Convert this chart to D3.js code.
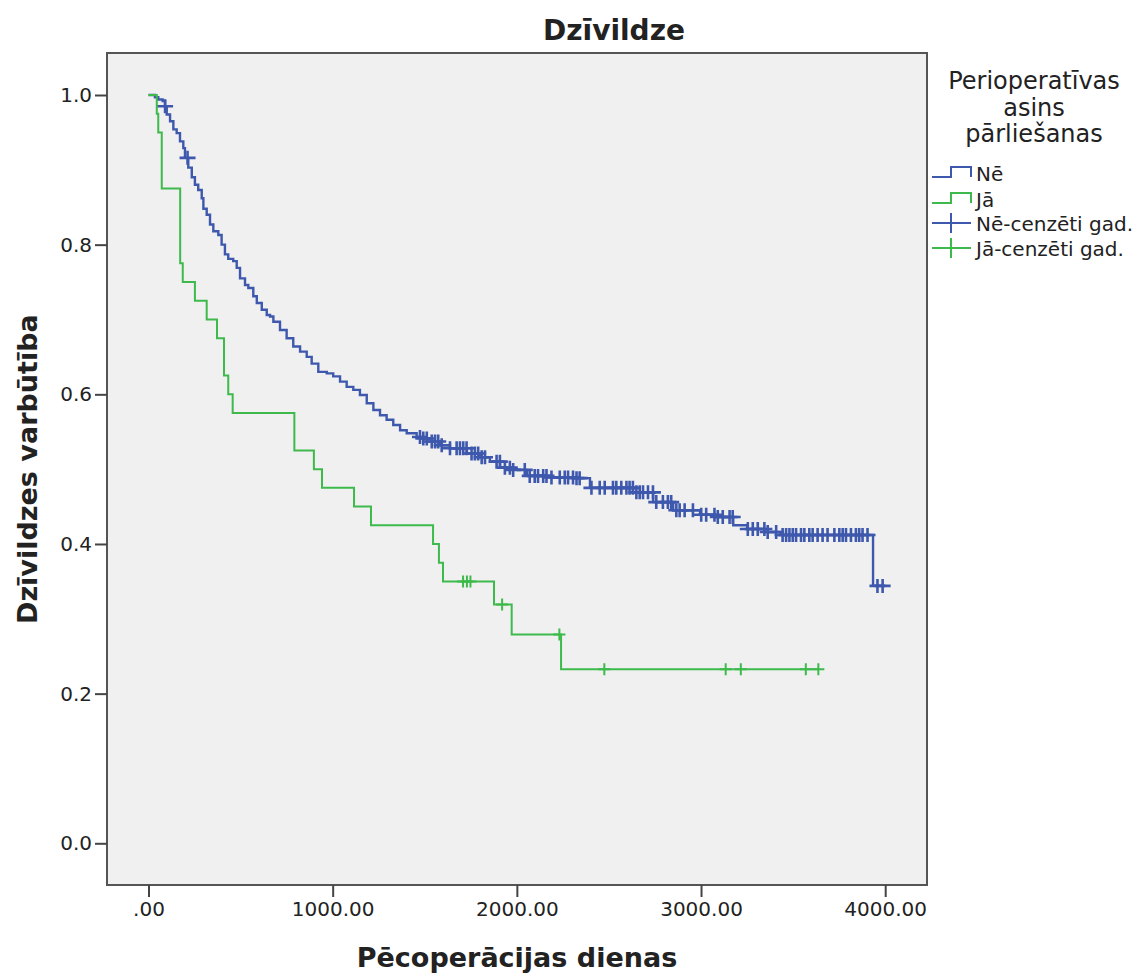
<!DOCTYPE html>
<html><head><meta charset="utf-8">
<script src="https://cdn.jsdelivr.net/npm/d3@7"></script>
<style>body{margin:0;background:#fff}</style>
</head><body><svg id="c" width="1148" height="976"></svg>
<script>
// ---------- data ----------
const chartTitle = "Dzīvildze";
const xTitle = "Pēcoperācijas dienas";
const yTitle = "Dzīvildzes varbūtība";
const xTicks = [0, 1000, 2000, 3000, 4000];
const xTickLabels = [".00", "1000.00", "2000.00", "3000.00", "4000.00"];
const yTicks = [0, 0.2, 0.4, 0.6, 0.8, 1.0];
const yTickLabels = ["0.0", "0.2", "0.4", "0.6", "0.8", "1.0"];
const legendTitle = ["Perioperatīvas", "asins", "pārliešanas"];
const legendLabels = ["Nē", "Jā", "Nē-cenzēti gad.", "Jā-cenzēti gad."];

// Kaplan-Meier steps [day, survival after event]
const neSteps = [[0,1],[35,0.997],[53,0.994],[77,0.992],[90,0.985],[99,0.974],[117,0.965],[135,0.954],[153,0.949],[171,0.938],[189,0.929],[198,0.916],[216,0.903],[235,0.890],[252,0.880],[270,0.873],[289,0.862],[298,0.848],[316,0.840],[334,0.827],[352,0.818],[379,0.813],[397,0.800],[415,0.787],[433,0.781],[460,0.778],[479,0.769],[497,0.755],[524,0.746],[542,0.742],[569,0.731],[588,0.722],[615,0.713],[642,0.706],[660,0.704],[678,0.697],[714,0.686],[750,0.675],[786,0.664],[823,0.657],[859,0.650],[886,0.641],[922,0.630],[968,0.628],[1003,0.624],[1040,0.617],[1076,0.610],[1112,0.606],[1148,0.599],[1185,0.588],[1221,0.579],[1257,0.572],[1293,0.566],[1329,0.559],[1366,0.552],[1402,0.548],[1456,0.543],[1492,0.541],[1538,0.537],[1583,0.532],[1637,0.528],[1729,0.521],[1800,0.516],[1854,0.510],[1909,0.502],[1979,0.499],[2055,0.491],[2164,0.489],[2316,0.488],[2397,0.475],[2631,0.469],[2740,0.456],[2849,0.445],[2995,0.439],[3088,0.436],[3175,0.425],[3251,0.420],[3348,0.416],[3429,0.412],[3934,0.344]];
const neCensored = [90,212,1474,1492,1511,1538,1556,1573,1592,1637,1673,1691,1709,1727,1754,1772,1790,1809,1827,1890,1908,1935,1962,1980,2043,2070,2097,2115,2143,2161,2188,2233,2260,2278,2305,2324,2341,2405,2450,2477,2522,2540,2567,2595,2612,2630,2649,2667,2685,2712,2739,2757,2793,2820,2838,2866,2884,2911,2956,3001,3028,3073,3091,3118,3155,3172,3254,3281,3308,3344,3362,3408,3443,3462,3480,3498,3516,3543,3561,3588,3606,3633,3660,3687,3724,3751,3769,3787,3814,3841,3859,3877,3904,3958,3986];
const jaSteps = [[0,1],[45,0.975],[53,0.95],[72,0.875],[172,0.775],[186,0.75],[252,0.725],[316,0.7],[372,0.675],[410,0.625],[433,0.6],[457,0.575],[792,0.525],[898,0.5],[942,0.475],[1116,0.45],[1208,0.425],[1545,0.4],[1577,0.375],[1599,0.35],[1876,0.319],[1972,0.279],[2240,0.2325]];
const jaCensored = [1708,1729,1748,1920,2231,2475,3134,3216,3569,3637];

const colors = ["#3d58ad", "#3dba4b"];

// ---------- layout ----------
const svg = d3.select("#c");
const frame = {l:107, r:927, t:53, b:885};
const x = d3.scaleLinear().domain([0, 4000]).range([148.5, 885.2]);
const y = d3.scaleLinear().domain([0, 1]).range([843.3, 95]);
const FONT = "DejaVu Sans, Verdana, sans-serif";
const TXT = "#222";

svg.append("rect").attr("x",0).attr("y",0).attr("width",1148).attr("height",976).attr("fill","#fff");
svg.append("rect").attr("x",frame.l).attr("y",frame.t).attr("width",frame.r-frame.l).attr("height",frame.b-frame.t).attr("fill","#f0f0f0");

function survAt(steps, t){ let v = 1; for (const [d,s] of steps) if (d <= t) v = s; return v; }

const line = d3.line().x(d=>x(d[0])).y(d=>y(d[1])).curve(d3.curveStepAfter);
const groups = [
  {steps: neSteps, cens: neCensored, color: colors[0], hw: 8, hh: 7, lw: 2.4, mw: 2.6},
  {steps: jaSteps, cens: jaCensored, color: colors[1], hw: 6, hh: 6, lw: 2, mw: 2}
];
groups.forEach(g => {
  const end = d3.max(g.cens);
  const pts = g.steps.concat([[end, g.steps[g.steps.length-1][1]]]);
  svg.append("path").attr("d", line(pts)).attr("fill","none").attr("stroke",g.color).attr("stroke-width",g.lw);
  const cg = svg.append("g").attr("stroke", g.color).attr("stroke-width", g.mw);
  g.cens.forEach(t => {
    const cx = x(t), cy = y(survAt(g.steps, t));
    cg.append("path").attr("d", `M${cx-g.hw},${cy}H${cx+g.hw}M${cx},${cy-g.hh}V${cy+g.hh}`);
  });
});

// frame
svg.append("rect").attr("x",frame.l).attr("y",frame.t).attr("width",frame.r-frame.l).attr("height",frame.b-frame.t)
  .attr("fill","none").attr("stroke","#555").attr("stroke-width",2);

// axes
const yAxis = d3.axisLeft(y).tickValues(yTicks).tickFormat((d,i)=>yTickLabels[i]).tickSize(12).tickPadding(3);
const ya = svg.append("g").attr("transform",`translate(${frame.l},0)`).call(yAxis);
const xAxis = d3.axisBottom(x).tickValues(xTicks).tickFormat((d,i)=>xTickLabels[i]).tickSize(12).tickPadding(5);
const xa = svg.append("g").attr("transform",`translate(0,${frame.b})`).call(xAxis);
[ya, xa].forEach(a => {
  a.select(".domain").remove();
  a.selectAll(".tick line").attr("stroke","#444").attr("stroke-width",2);
  a.selectAll(".tick text").attr("fill",TXT).style("font-family",FONT).style("font-size","20px");
});

// titles
svg.append("text").attr("x",614).attr("y",40).attr("text-anchor","middle")
  .style("font-family",FONT).style("font-weight","bold").style("font-size","28px").attr("fill",TXT).text(chartTitle);
svg.append("text").attr("x",517).attr("y",967).attr("text-anchor","middle")
  .style("font-family",FONT).style("font-weight","bold").style("font-size","27px").attr("fill",TXT).text(xTitle);
svg.append("text").attr("transform",`translate(37,${(y(0)+y(1))/2}) rotate(-90)`).attr("text-anchor","middle")
  .style("font-family",FONT).style("font-weight","bold").style("font-size","27px").attr("fill",TXT).text(yTitle);

// legend
const lt = svg.append("g").style("font-family",FONT).style("font-size","24px").attr("fill",TXT);
legendTitle.forEach((t,i)=>{
  lt.append("text").attr("x",1034).attr("y",89 + i*26.5).attr("text-anchor","middle").text(t);
});
const items = [
  {type:"step", color: colors[0], yy: 177},
  {type:"step", color: colors[1], yy: 203},
  {type:"cross", color: colors[0], yy: 223},
  {type:"cross", color: colors[1], yy: 248}
];
const baselines = [181, 207, 231, 256];
items.forEach((it,i)=>{
  if (it.type === "step") {
    svg.append("path").attr("d",`M932,${it.yy}H951V${it.yy-10}H971V${it.yy}`)
      .attr("fill","none").attr("stroke",it.color).attr("stroke-width",2);
  } else {
    svg.append("path").attr("d",`M932,${it.yy}H971M951,${it.yy-10}V${it.yy+10}`)
      .attr("fill","none").attr("stroke",it.color).attr("stroke-width",2);
  }
  svg.append("text").attr("x",976).attr("y",baselines[i]).style("font-family",FONT).style("font-size","20px")
    .attr("fill",TXT).text(legendLabels[i]);
});
</script></body></html>
